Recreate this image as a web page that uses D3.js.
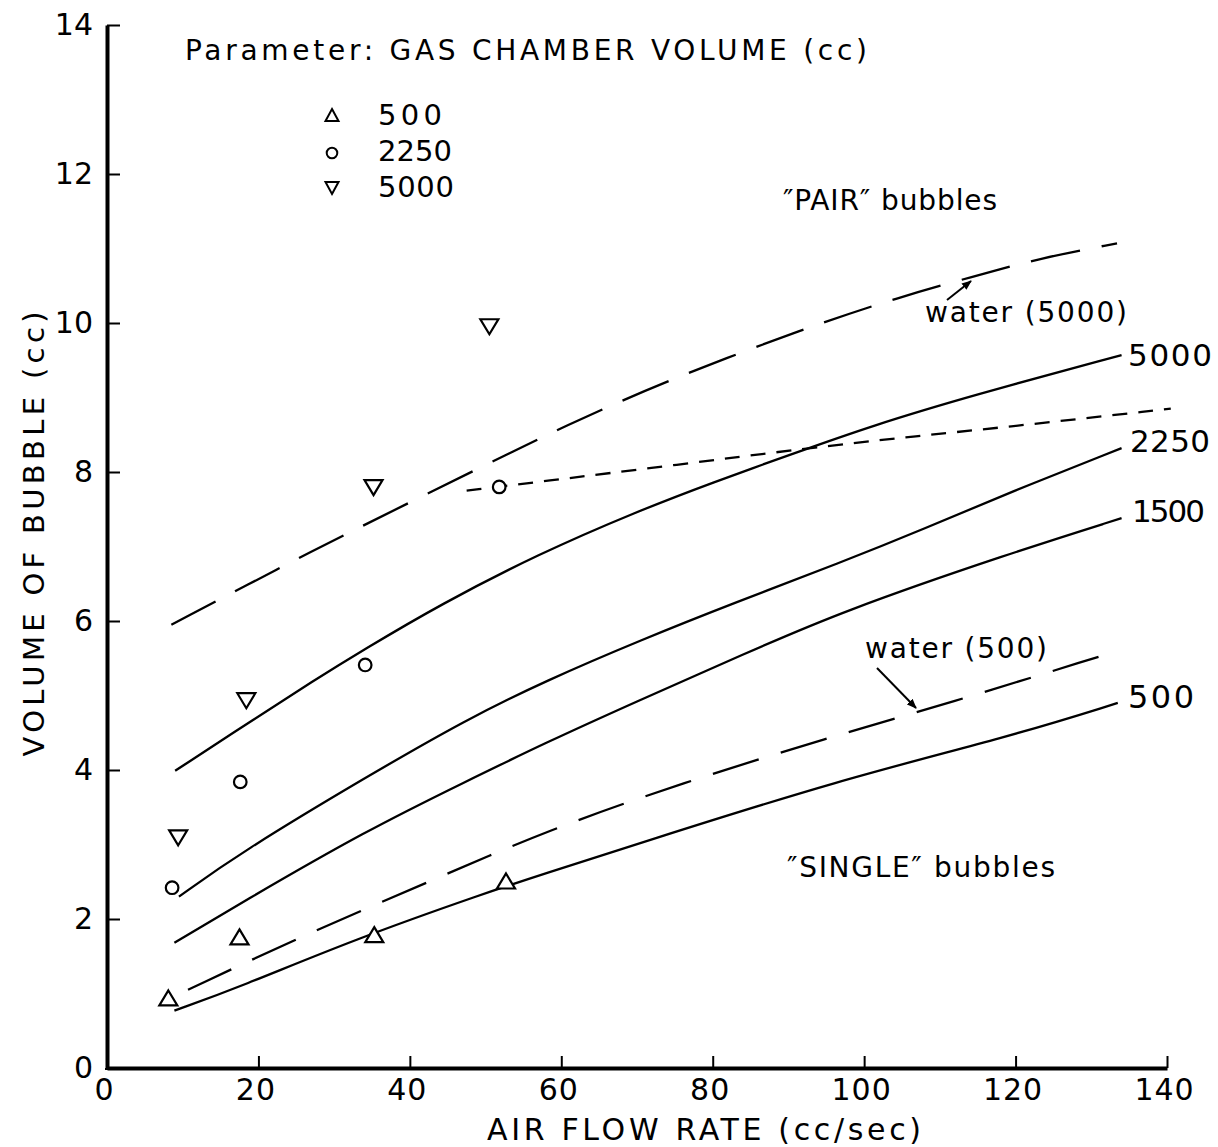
<!DOCTYPE html>
<html>
<head>
<meta charset="utf-8">
<script src="https://cdn.jsdelivr.net/npm/d3@7"></script>
<style>
  html, body { margin: 0; padding: 0; background: #fff; }
  svg { display: block; }
  text { font-family: "DejaVu Sans", "Liberation Sans", sans-serif; fill: #000; }
</style>
</head>
<body>
<script>
// ---------------- data ----------------
const xTicks = [0, 20, 40, 60, 80, 100, 120, 140];
const yTicks = [0, 2, 4, 6, 8, 10, 12, 14];

// solid curves, labelled by gas-chamber volume (cc)
const c5000X = [9, 20, 27, 34, 44, 57, 70, 80, 91, 101, 114, 134];
const c5000Y = [3.99, 4.72, 5.18, 5.62, 6.22, 6.90, 7.47, 7.86, 8.26, 8.62, 9.02, 9.57];
const c2250X = [9.5, 17.6, 34.3, 47.5, 58, 70.4, 83, 96.8, 108, 119.3, 134];
const c2250Y = [2.30, 2.89, 3.91, 4.68, 5.20, 5.74, 6.25, 6.78, 7.24, 7.73, 8.32];
const c1500X = [8.9, 17.6, 34.3, 47.5, 58, 70.4, 84, 96.8, 119.3, 134];
const c1500Y = [1.68, 2.21, 3.19, 3.85, 4.37, 4.94, 5.55, 6.12, 6.91, 7.38];
const c500X  = [8.9, 17.6, 32.5, 50.3, 57.2, 70.4, 96.8, 119.3, 133.5];
const c500Y  = [0.77, 1.09, 1.72, 2.36, 2.59, 3.02, 3.87, 4.45, 4.90];

// long-dashed water curves
const water500X  = [10.7, 25.5, 43, 58.1, 76.1, 95.1, 111.3, 131.6];
const water500Y  = [1.05, 1.76, 2.52, 3.19, 3.83, 4.43, 4.90, 5.54];
const water5000X = [8.5, 23.5, 31.8, 49.5, 60.5, 74, 92.2, 104.7, 114.3, 123.2, 133.4];
const water5000Y = [5.95, 6.75, 7.18, 8.07, 8.62, 9.23, 9.93, 10.35, 10.62, 10.87, 11.07];

// short-dashed "pair" curve from the 2250 point
const pairX = [47.5, 57.2, 74.8, 92.5, 105.7, 117.6, 140.5];
const pairY = [7.75, 7.87, 8.09, 8.32, 8.47, 8.59, 8.85];

// measured points
const tri500X  = [8.1, 17.5, 35.3, 52.7];
const tri500Y  = [0.94, 1.76, 1.79, 2.51];
const circ2250X = [8.6, 17.6, 34.1, 51.8];
const circ2250Y = [2.42, 3.84, 5.41, 7.8];
const inv5000X = [9.4, 18.4, 35.2, 50.5];
const inv5000Y = [3.09, 4.93, 7.79, 9.95];

const legendLabels = ["500", "2250", "5000"];
const legendShapes = ["tri", "circ", "inv"];

// ---------------- drawing ----------------
const W = 1218, H = 1147;
const svg = d3.select("body").append("svg").attr("width", W).attr("height", H);
svg.append("rect").attr("width", W).attr("height", H).attr("fill", "#fff");

const x = d3.scaleLinear().domain([0, 140]).range([107, 1167]);
const y = d3.scaleLinear().domain([0, 14]).range([1068, 25]);

const zip = (a, b) => a.map((v, i) => [v, b[i]]);
const line = d3.line().x(d => x(d[0])).y(d => y(d[1])).curve(d3.curveBasis);

// axes
const yAxis = svg.append("g").attr("transform", `translate(${x(0)},0)`)
  .call(d3.axisLeft(y).tickValues(yTicks).tickSize(-13).tickSizeOuter(0).tickPadding(14).tickFormat(d3.format("d")));
const xAxis = svg.append("g").attr("transform", `translate(0,${y(0)})`)
  .call(d3.axisBottom(x).tickValues(xTicks).tickSize(-12).tickSizeOuter(0).tickPadding(11).tickFormat(d3.format("d")));

[xAxis, yAxis].forEach(g => {
  g.select(".domain").attr("stroke", "#000").attr("stroke-width", 4);
  g.selectAll(".tick line").attr("stroke", "#000").attr("stroke-width", 2);
  g.selectAll(".tick text").attr("font-size", 30).attr("font-family", "DejaVu Sans").attr("fill", "#000");
});
xAxis.selectAll(".tick text").attr("dx", -3).attr("letter-spacing", 1);
svg.append("line").attr("x1", x(0)).attr("x2", x(0)).attr("y1", y(0)).attr("y2", y(0) + 2)
  .attr("stroke", "#000").attr("stroke-width", 4);

// axis titles
svg.append("text").attr("x", 704).attr("y", 1140).attr("text-anchor", "middle")
  .attr("font-size", 30).attr("textLength", 434).attr("lengthAdjust", "spacing")
  .text("AIR FLOW RATE (cc/sec)");
svg.append("text").attr("transform", "translate(44,534) rotate(-90)").attr("text-anchor", "middle")
  .attr("font-size", 29).attr("textLength", 445).attr("lengthAdjust", "spacing")
  .text("VOLUME OF BUBBLE (cc)");

// curves
const curves = [
  { d: zip(c5000X, c5000Y), dash: null },
  { d: zip(c2250X, c2250Y), dash: null },
  { d: zip(c1500X, c1500Y), dash: null },
  { d: zip(c500X, c500Y), dash: null },
  { d: zip(water500X, water500Y), dash: "48,23" },
  { d: zip(water5000X, water5000Y), dash: "50,22" },
  { d: zip(pairX, pairY), dash: "15,11" }
];
svg.append("g").selectAll("path").data(curves).join("path")
  .attr("d", c => line(c.d))
  .attr("fill", "none").attr("stroke", "#000").attr("stroke-width", 2.3)
  .attr("stroke-dasharray", c => c.dash);

// marker shapes
function shapePath(kind, hw, h, r) {
  if (kind === "tri") return `M0,${-h/2}L${hw},${h/2}L${-hw},${h/2}Z`;
  if (kind === "inv") return `M0,${h/2}L${hw},${-h/2}L${-hw},${-h/2}Z`;
  return `M${r},0A${r},${r} 0 1,1 ${-r},0A${r},${r} 0 1,1 ${r},0Z`;
}
const pts = [
  { kind: "tri",  d: zip(tri500X, tri500Y) },
  { kind: "circ", d: zip(circ2250X, circ2250Y) },
  { kind: "inv",  d: zip(inv5000X, inv5000Y) }
];
pts.forEach(s => {
  svg.append("g").selectAll("path").data(s.d).join("path")
    .attr("transform", d => `translate(${x(d[0])},${y(d[1])})`)
    .attr("d", shapePath(s.kind, 9, 15, 6.3))
    .attr("fill", "#fff").attr("stroke", "#000").attr("stroke-width", 2.2);
});

// legend
svg.append("text").attr("x", 185).attr("y", 60).attr("font-size", 28)
  .attr("textLength", 682).attr("lengthAdjust", "spacing")
  .text("Parameter: GAS CHAMBER VOLUME (cc)");
const legY = [115, 153, 188];
const legBase = [125, 161, 197];
const legW = [64, 74, 76];
legendLabels.forEach((lab, i) => {
  svg.append("path").attr("transform", `translate(332,${legY[i]})`)
    .attr("d", shapePath(legendShapes[i], 6.5, 12, 5.3))
    .attr("fill", "#fff").attr("stroke", "#000").attr("stroke-width", 2);
  svg.append("text").attr("x", 378).attr("y", legBase[i]).attr("font-size", 29)
    .attr("textLength", legW[i]).attr("lengthAdjust", "spacing").text(lab);
});

// annotations
const notes = [
  { t: "\u2033PAIR\u2033 bubbles", x: 783, y: 210, fs: 28, w: 214 },
  { t: "\u2033SINGLE\u2033 bubbles", x: 787, y: 877, fs: 28, w: 268 },
  { t: "water (5000)", x: 925, y: 322, fs: 28, w: 202 },
  { t: "water (500)", x: 865, y: 658, fs: 28, w: 182 },
  { t: "5000", x: 1128, y: 366, fs: 31, w: 84 },
  { t: "2250", x: 1130, y: 452, fs: 31, w: 80 },
  { t: "1500", x: 1132, y: 522, fs: 31, w: null },
  { t: "500", x: 1128, y: 708, fs: 32, w: 66 }
];
const nt = svg.append("g").selectAll("text").data(notes).join("text")
  .attr("x", d => d.x).attr("y", d => d.y).attr("font-size", d => d.fs)
  .text(d => d.t);
nt.filter(d => d.w).attr("textLength", d => d.w).attr("lengthAdjust", "spacing");
nt.filter(d => !d.w).attr("letter-spacing", -2);

// arrows
const defs = svg.append("defs");
defs.append("marker").attr("id", "ah").attr("viewBox", "0 0 10 10").attr("refX", 9).attr("refY", 5)
  .attr("markerWidth", 5).attr("markerHeight", 5).attr("orient", "auto")
  .append("path").attr("d", "M0,1L10,5L0,9Z").attr("fill", "#000");
const arrows = [
  { x1: 947, y1: 300, x2: 971, y2: 281 },
  { x1: 877, y1: 668, x2: 916, y2: 708 }
];
svg.append("g").selectAll("line").data(arrows).join("line")
  .attr("x1", d => d.x1).attr("y1", d => d.y1).attr("x2", d => d.x2).attr("y2", d => d.y2)
  .attr("stroke", "#000").attr("stroke-width", 2).attr("marker-end", "url(#ah)");
</script>
</body>
</html>
